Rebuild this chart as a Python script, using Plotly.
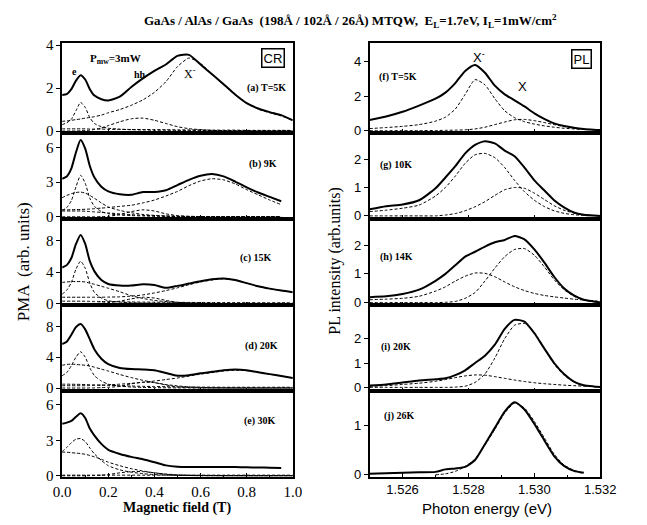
import plotly.graph_objects as go

# ---------------- DATA ----------------
B_grid = [0, 0.02, 0.04, 0.06, 0.08, 0.1, 0.12, 0.14, 0.17, 0.2, 0.25, 0.3, 0.35, 0.4,
          0.45, 0.5, 0.55, 0.6, 0.65, 0.7, 0.75, 0.8, 0.85, 0.9, 0.95, 1.0]
x_ticks_B = [0, 0.2, 0.4, 0.6, 0.8, 1.0]

# (a) T=5K
a_exp = [1.68, 1.72, 1.95, 2.35, 2.6, 2.4, 1.95, 1.65, 1.48, 1.42, 1.6, 2.05, 2.45, 2.8,
         3.1, 3.5, 3.55, 3.1, 2.64, 2.18, 1.7, 1.3, 1.05, 0.88, 0.74, 0.5]
a_xm = [0.45, 0.47, 0.5, 0.53, 0.56, 0.6, 0.63, 0.67, 0.74, 0.85, 1.0, 1.2, 1.45, 1.8,
        2.3, 3.0, 3.4, 3.15, 2.65, 2.15, 1.7, 1.3, 1.02, 0.85, 0.7, 0.5]
a_e = [0.3, 0.38, 0.55, 0.95, 1.33, 1.1, 0.62, 0.35, 0.2, 0.13, 0.08, 0.06, 0.05, 0.04,
       0.04, 0.03, 0.03, 0.03, 0.02, 0.02, 0.02, 0.02, 0.02, 0.02, 0.02, 0.02]
a_hh = [0, 0, 0, 0, 0.01, 0.02, 0.04, 0.07, 0.14, 0.25, 0.43, 0.57, 0.6, 0.5,
        0.35, 0.2, 0.11, 0.06, 0.03, 0.02, 0.01, 0.01, 0, 0, 0, 0]
a_base = [0.1, 0.1, 0.1, 0.1, 0.1, 0.1, 0.09, 0.09, 0.09, 0.08, 0.08, 0.07, 0.07, 0.06,
          0.06, 0.05, 0.05, 0.05, 0.04, 0.04, 0.04, 0.03, 0.03, 0.03, 0.03, 0.03]

# (b) 9K
b_exp = [3.3, 3.5, 4.2, 5.6, 6.65, 5.9, 4.4, 3.4, 2.6, 2.2, 1.95, 1.9, 2.15, 2.15,
         2.3, 2.75, 3.2, 3.55, 3.7, 3.5, 3.05, 2.55, 2.1, 1.72, 1.35, None]
b_e = [0.55, 0.8, 1.4, 2.6, 3.6, 2.9, 1.6, 0.9, 0.45, 0.27, 0.15, 0.1, 0.07, 0.05,
       0.04, 0.03, 0.03, 0.02, 0.02, 0.01, 0.01, 0.01, 0.01, 0.01, 0.01, None]
b_broad = [1.65, 1.85, 2.0, 2.1, 2.14, 2.05, 1.85, 1.6, 1.2, 0.85, 0.55, 0.35, 0.2, 0.12,
           0.07, 0.04, 0.02, 0.01, 0, 0, 0, 0, 0, 0, 0, None]
b_xm = [0.6, 0.6, 0.61, 0.62, 0.63, 0.65, 0.67, 0.7, 0.75, 0.8, 0.9, 1.0, 1.2, 1.45,
        1.8, 2.2, 2.7, 3.1, 3.3, 3.2, 2.85, 2.35, 1.9, 1.45, 1.05, None]
b_hh = [0, 0, 0, 0, 0, 0, 0, 0, 0.01, 0.03, 0.2, 0.45, 0.6, 0.5,
        0.25, 0.1, 0.04, 0.02, 0.01, 0, 0, 0, 0, 0, 0, None]
b_base = [0.5, 0.5, 0.5, 0.5, 0.5, 0.48, 0.45, 0.42, 0.38, 0.33, 0.25, 0.18, 0.12, 0.08,
          0.05, 0.03, 0.02, 0.02, 0.01, 0.01, 0.01, 0.01, 0.01, 0.01, 0.01, None]

# (c) 15K
c_exp = [4.6, 4.9, 5.8, 7.6, 8.75, 7.6, 5.4, 4.1, 3.0, 2.5, 2.3, 2.3, 2.45, 2.35,
         2.0, 2.25, 2.55, 2.85, 3.1, 3.2, 3.0, 2.6, 2.2, 1.9, 1.65, 1.45]
c_e = [1.2, 1.7, 2.7, 4.4, 5.4, 4.5, 2.6, 1.4, 0.7, 0.35, 0.18, 0.1, 0.06, 0.04,
       0.03, 0.02, 0.02, 0.01, 0.01, 0.01, 0.01, 0.01, 0.01, 0.01, 0.01, 0.01]
c_broad = [2.7, 2.75, 2.8, 2.8, 2.8, 2.75, 2.6, 2.45, 2.2, 1.95, 1.5, 1.0, 0.65, 0.4,
           0.25, 0.15, 0.08, 0.04, 0.02, 0.01, 0, 0, 0, 0, 0, 0]
c_xm = [0.8, 0.8, 0.8, 0.8, 0.8, 0.8, 0.8, 0.8, 0.8, 0.82, 0.85, 0.95, 1.1, 1.35,
        1.65, 2.0, 2.4, 2.75, 3.0, 3.15, 3.0, 2.6, 2.2, 1.9, 1.65, 1.45]
c_hh = [0, 0, 0, 0, 0, 0, 0.01, 0.02, 0.05, 0.12, 0.3, 0.6, 0.8, 0.7,
        0.4, 0.15, 0.05, 0.02, 0.01, 0, 0, 0, 0, 0, 0, 0]
c_base = [0.3, 0.3, 0.3, 0.3, 0.3, 0.29, 0.28, 0.27, 0.26, 0.25, 0.22, 0.2, 0.18, 0.17,
          0.16, 0.15, 0.14, 0.13, 0.12, 0.12, 0.11, 0.11, 0.1, 0.1, 0.1, 0.1]

# (d) 20K
d_exp = [5.7, 6.0, 6.9, 7.9, 8.3, 7.6, 6.3, 5.0, 3.8, 3.1, 2.6, 2.45, 2.4, 2.3,
         1.95, 1.6, 1.65, 1.9, 2.1, 2.3, 2.4, 2.3, 2.05, 1.8, 1.55, 1.3]
d_e = [1.6, 2.0, 2.9, 4.0, 4.7, 4.0, 2.6, 1.6, 0.9, 0.5, 0.25, 0.13, 0.08, 0.05,
       0.03, 0.02, 0.02, 0.01, 0.01, 0.01, 0.01, 0.01, 0.01, 0.01, 0.01, 0.01]
d_broad = [2.95, 3.05, 3.1, 3.05, 3.0, 2.95, 2.85, 2.7, 2.45, 2.2, 1.75, 1.35, 1.0, 0.7,
           0.45, 0.28, 0.15, 0.08, 0.04, 0.02, 0.01, 0, 0, 0, 0, 0]
d_xm = [0.3, 0.3, 0.3, 0.3, 0.3, 0.3, 0.32, 0.34, 0.37, 0.4, 0.5, 0.6, 0.75, 0.9,
        1.1, 1.3, 1.55, 1.8, 2.0, 2.2, 2.3, 2.25, 2.05, 1.8, 1.55, 1.3]
d_hh = [0, 0, 0, 0, 0, 0, 0.01, 0.02, 0.05, 0.1, 0.2, 0.55, 0.75, 0.7,
        0.4, 0.15, 0.05, 0.02, 0.01, 0, 0, 0, 0, 0, 0, 0]
d_base = [0.5, 0.5, 0.49, 0.48, 0.47, 0.45, 0.43, 0.41, 0.38, 0.35, 0.3, 0.26, 0.22, 0.2,
          0.17, 0.15, 0.13, 0.12, 0.11, 0.1, 0.1, 0.1, 0.1, 0.1, 0.1, 0.1]

# (e) 30K
e_exp = [4.4, 4.5, 4.65, 5.0, 5.3, 4.9, 4.0, 3.4, 2.7, 2.2, 1.85, 1.6, 1.4, 1.15,
         0.88, 0.77, 0.75, 0.75, 0.75, 0.74, 0.74, 0.72, 0.7, 0.68, 0.65, None]
e_e = [2.05, 2.4, 2.8, 3.1, 3.15, 2.9, 2.35, 1.85, 1.3, 0.85, 0.5, 0.3, 0.18, 0.1,
       0.06, 0.03, 0.02, 0.01, 0.01, 0.01, 0.01, 0.01, 0.01, 0.01, 0.01, 0.01]
e_broad = [2.0, 2.0, 1.95, 1.92, 1.88, 1.82, 1.72, 1.6, 1.4, 1.15, 0.85, 0.6, 0.4, 0.25,
           0.15, 0.08, 0.05, 0.03, 0.02, 0.01, 0.01, 0, 0, 0, 0, 0]
e_hh = [0, 0, 0, 0, 0, 0, 0.01, 0.02, 0.05, 0.1, 0.25, 0.35, 0.35, 0.25,
        0.12, 0.05, 0.02, 0.01, 0, 0, 0, 0, 0, 0, 0, 0]
e_base = [0.05, 0.05, 0.05, 0.05, 0.05, 0.05, 0.05, 0.05, 0.05, 0.05, 0.05, 0.05, 0.05, 0.05,
          0.05, 0.05, 0.05, 0.05, 0.05, 0.05, 0.05, 0.05, 0.05, 0.05, 0.05, 0.05]

E_grid = [1.525, 1.5255, 1.526, 1.5265, 1.527, 1.5273, 1.5276, 1.5279, 1.5282, 1.5285, 1.5288,
          1.5291, 1.5294, 1.5297, 1.53, 1.5303, 1.5306, 1.5309, 1.5312, 1.5315, 1.5318, 1.532]
x_ticks_E = [1.526, 1.528, 1.530, 1.532]

# (f) T=5K
f_exp = [0.62, 0.82, 1.09, 1.45, 1.85, 2.2, 2.75, 3.45, 3.8, 3.35, 2.6, 2.1, 1.75, 1.4,
         1.0, 0.68, 0.42, 0.27, 0.17, 0.1, 0.06, 0.04]
f_xm = [0.12, 0.18, 0.25, 0.35, 0.55, 0.78, 1.25, 2.1, 2.95, 2.65, 1.85, 1.15, 0.75, 0.52,
        0.38, 0.28, 0.2, 0.14, 0.1, 0.07, 0.05, 0.04]
f_x = [0, 0, 0, 0, 0.01, 0.02, 0.03, 0.05, 0.1, 0.2, 0.35, 0.5, 0.63, 0.65,
       0.58, 0.47, 0.35, 0.24, 0.15, 0.09, 0.05, 0.03]
# (g) 10K
g_exp = [0.23, 0.34, 0.4, 0.55, 0.97, 1.35, 1.75, 2.2, 2.5, 2.63, 2.55, 2.3, 2.1, 1.7,
         1.25, 0.9, 0.55, 0.3, 0.12, 0.04, 0.01, 0]
g_xm = [0.15, 0.2, 0.27, 0.38, 0.7, 1.0, 1.4, 1.85, 2.15, 2.2, 2.05, 1.7, 1.25, 0.85,
        0.55, 0.33, 0.18, 0.09, 0.04, 0.02, 0.01, 0]
g_x = [0, 0, 0, 0, 0, 0.03, 0.08, 0.18, 0.32, 0.5, 0.72, 0.92, 1.0, 0.97,
       0.8, 0.58, 0.36, 0.2, 0.1, 0.04, 0.01, 0]
# (h) 14K
h_exp = [0.19, 0.22, 0.3, 0.45, 0.76, 1.0, 1.3, 1.6, 1.77, 1.95, 2.1, 2.18, 2.32, 2.2,
         1.85, 1.4, 0.9, 0.5, 0.25, 0.1, 0.04, 0]
h_xm = [0.1, 0.12, 0.15, 0.22, 0.4, 0.55, 0.75, 0.92, 1.03, 1.02, 0.9, 0.72, 0.55, 0.42,
        0.32, 0.25, 0.2, 0.16, 0.12, 0.09, 0.06, 0.05]
h_x = [0, 0, 0, 0, 0, 0.01, 0.04, 0.15, 0.35, 0.75, 1.2, 1.6, 1.85, 1.88,
       1.65, 1.25, 0.8, 0.45, 0.22, 0.09, 0.03, 0.01]
# (i) 20K
i_exp = [0.08, 0.12, 0.2, 0.28, 0.33, 0.37, 0.5, 0.7, 1.0, 1.3, 1.75, 2.4, 2.77, 2.7,
         2.22, 1.6, 1.0, 0.55, 0.24, 0.09, 0.04, 0.02]
i_xm = [0.04, 0.07, 0.12, 0.17, 0.25, 0.32, 0.4, 0.47, 0.51, 0.5, 0.44, 0.37, 0.3, 0.24,
        0.19, 0.15, 0.12, 0.09, 0.07, 0.05, 0.03, 0.02]
i_x = [0, 0, 0, 0, 0, 0, 0.01, 0.05, 0.2, 0.55, 1.2, 2.0, 2.55, 2.62,
       2.25, 1.6, 0.95, 0.5, 0.22, 0.08, 0.03, 0.01]
# (j) 26K
j_exp = [0.02, 0.03, 0.04, 0.05, 0.06, 0.11, 0.13, 0.16, 0.3, 0.62, 0.95, 1.28, 1.47, 1.32,
         1.03, 0.7, 0.38, 0.18, 0.08, 0.04, None, None]
j_fit = [None, None, None, None, 0.0, 0.02, 0.07, 0.17, 0.32, 0.6, 0.92, 1.25, 1.45, 1.35,
         1.08, 0.75, 0.42, 0.2, 0.09, 0.03, None, None]

# ---------------- LAYOUT HELPERS ----------------
# The page body has an 8 px margin (top/left), so the figure is shifted by 8 px.
W, H = 647, 525
OX, OY = 8, 8
FW, FH = W - OX, H - OY

rows_px = [(38, 130), (130, 218), (218, 307), (307, 395), (395, 483)]
left_x_px = (55, 295)
right_x_px = (375, 615)

left_ranges = [[-0.09, 4.09], [-0.17, 7.27], [-0.25, 10.82], [-0.42, 10.69], [-0.11, 7.16]]
left_ticks = [[0, 2, 4], [0, 3, 6], [0, 4, 8], [0, 4, 8], [0, 3, 6]]
right_ranges = [[-0.13, 5.05], [-0.10, 2.92], [-0.10, 2.92], [-0.16, 3.36], [-0.045, 1.69]]
right_ticks = [[0, 2, 4], [0, 1, 2], [0, 1, 2], [0, 1, 2], [0, 1]]

left_series = [
    (a_exp, [a_xm, a_e, a_hh, a_base]),
    (b_exp, [b_e, b_broad, b_xm, b_hh, b_base]),
    (c_exp, [c_e, c_broad, c_xm, c_hh, c_base]),
    (d_exp, [d_e, d_broad, d_xm, d_hh, d_base]),
    (e_exp, [e_e, e_broad, e_hh, e_base]),
]
right_series = [
    (f_exp, [f_xm, f_x]),
    (g_exp, [g_xm, g_x]),
    (h_exp, [h_xm, h_x]),
    (i_exp, [i_xm, i_x]),
    (j_exp, [j_fit]),
]

SERIF = "Liberation Serif, Times New Roman, serif"
SANS = "Liberation Sans, Arial, sans-serif"


def px_x(p):
    return (p - OX) / FW


def px_y(p):
    return 1 - (p - OY) / FH


fig = go.Figure()
layout = dict(width=FW, height=FH, margin=dict(l=0, r=0, t=0, b=0),
              paper_bgcolor="white", plot_bgcolor="white", showlegend=False)

solid = dict(color="black", width=2, shape="spline", smoothing=0.6)
dash = dict(color="black", width=1, dash="3px,2px", shape="spline", smoothing=0.6)


def add_panel(n, xs, exp, comps, xr, xpx, yr, yt, ypx, is_left, bottom):
    xa = "x" if n == 1 else f"x{n}"
    ya = "y" if n == 1 else f"y{n}"
    for comp in comps:
        fig.add_trace(go.Scatter(x=xs, y=comp, mode="lines", line=dash,
                                 xaxis=xa, yaxis=ya, connectgaps=False))
    fig.add_trace(go.Scatter(x=xs, y=exp, mode="lines", line=solid,
                             xaxis=xa, yaxis=ya, connectgaps=False))
    key = "" if n == 1 else str(n)
    tickfont = dict(family=SERIF if is_left else SANS,
                    size=15 if is_left else 13, color="black")
    layout["xaxis" + key] = dict(
        domain=[px_x(xpx[0]), px_x(xpx[1])], range=xr, anchor=ya,
        showline=True, linecolor="black", linewidth=1.5, mirror=True,
        ticks="inside", ticklen=4, tickcolor="black",
        tickvals=x_ticks_B if is_left else x_ticks_E,
        tickformat=".1f" if is_left else ".3f",
        showticklabels=bottom, tickfont=tickfont, showgrid=False, zeroline=False,
        minor=dict(ticks="inside", ticklen=2, dtick=0.1 if is_left else 0.001,
                   tickcolor="black", showgrid=False))
    layout["yaxis" + key] = dict(
        domain=[px_y(ypx[1]), px_y(ypx[0])], range=yr, anchor=xa,
        showline=True, linecolor="black", linewidth=1.5, mirror=True,
        ticks="outside", ticklen=4, tickcolor="black", tickvals=yt,
        tickfont=tickfont, showgrid=False, zeroline=False)


for k in range(5):
    exp, comps = left_series[k]
    add_panel(k + 1, B_grid, exp, comps, [0, 1.0], left_x_px, left_ranges[k],
              left_ticks[k], rows_px[k], True, k == 4)
for k in range(5):
    exp, comps = right_series[k]
    add_panel(k + 6, E_grid, exp, comps, [1.525, 1.532], right_x_px, right_ranges[k],
              right_ticks[k], rows_px[k], False, k == 4)

ann = []


def txt(x, y, s, size=10, family=SERIF, bold=False, **kw):
    if bold:
        s = "<b>" + s + "</b>"
    d = dict(x=px_x(x), y=px_y(y), xref="paper", yref="paper", text=s, showarrow=False,
             xanchor="center", yanchor="middle",
             font=dict(family=family, size=size, color="black"))
    d.update(kw)
    ann.append(d)


txt(355, 15, "GaAs / AlAs / GaAs  (198Å / 102Å / 26Å) MTQW,  E<sub>L</sub>=1.7eV, I<sub>L</sub>=1mW/cm<sup>2</sup>",
    size=13, bold=True)
# panel labels
for (x, y, s) in [(268, 84, "(a) T=5K"), (264, 162, "(b) 9K"), (257, 258, "(c) 15K"),
                  (262, 349, "(d) 20K"), (261, 425, "(e) 30K"),
                  (405, 73, "(f) T=5K"), (402, 163, "(g) 10K"), (403, 257, "(h) 14K"),
                  (402, 350, "(i) 20K"), (406, 420, "(j) 26K")]:
    txt(x, y, s, size=10, bold=True)
txt(274, 53, "CR", size=13, family=SANS, bordercolor="black", borderwidth=1.5, borderpad=1)
txt(595, 54, "PL", size=13, family=SANS, bordercolor="black", borderwidth=1.5, borderpad=1)
txt(110, 54, "P<sub>mw</sub>=3mW", size=11, bold=True)
txt(68, 67, "e", size=10, bold=True)
txt(136, 70, "hh", size=10, bold=True)
txt(188, 69, "X<sup>-</sup>", size=12)
txt(489, 52, "X<sup>-</sup>", size=13, family=SANS)
txt(534, 82, "X", size=13, family=SANS)
# axis titles
txt(175, 515, "Magnetic field (T)", size=14, bold=True)
txt(497, 515, "Photon energy (eV)", size=15, family=SANS)
txt(15, 262, "PMA  (arb. units)", size=17, textangle=-90)
txt(339, 262, "PL intensity (arb.units)", size=16, textangle=-90)

layout["annotations"] = ann
fig.update_layout(**layout)
fig.write_html("out.html")
